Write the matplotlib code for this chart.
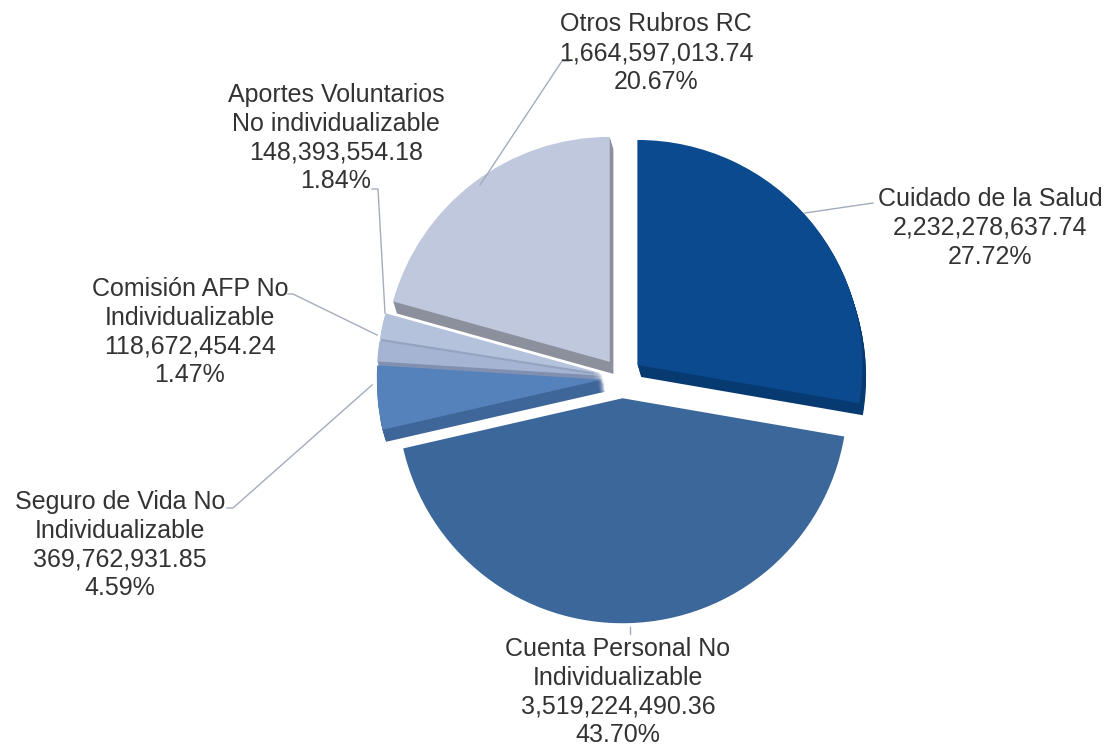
import numpy as np
import matplotlib.pyplot as plt

plt.rcParams['font.family'] = ['Liberation Sans', 'DejaVu Sans']

# data
categorias = ['Cuidado de la Salud',
              'Cuenta Personal No\nIndividualizable',
              'Seguro de Vida No\nIndividualizable',
              'Comisión AFP No\nIndividualizable',
              'Aportes Voluntarios\nNo individualizable',
              'Otros Rubros RC']
montos = [2232278637.74, 3519224490.36, 369762931.85,
          118672454.24, 148393554.18, 1664597013.74]

# estilo
colores = ['#0b4a8e', '#3b679a', '#5582bb', '#a4b4d2', '#b4c2dc', '#c0c8de']
lados = ['#083a72', 'none', '#3f6699', '#8190b0', '#94a3c0', '#8c909c']

W, H = 1112, 751
cx, cy, R = 622, H - 378, 225
explode = [0.09 * R] * 6   # pie() usa desplazamiento absoluto

fig = plt.figure(figsize=(W / 100, H / 100), dpi=100)
ax = fig.add_axes([0, 0, 1, 1])

# extrusion (capas desplazadas hacia abajo)
capas = 12
for k in range(capas, 0, -1):
    ax.pie(montos, colors=lados, explode=explode, radius=R,
           center=(cx + k * 0.3, cy - k * 1.0),
           startangle=90, counterclock=False,
           wedgeprops=dict(linewidth=0))
ax.pie(montos, colors=colores, explode=explode, radius=R,
       center=(cx, cy), startangle=90, counterclock=False,
       wedgeprops=dict(linewidth=0))

total = sum(montos)
textos = [f'{c}\n{m:,.2f}\n{m / total * 100:.2f}%' for c, m in zip(categorias, montos)]

# posiciones de etiquetas (px desde arriba)
pos_txt = [(990, 228), (618, 692), (120, 545), (190, 332), (336, 138), (656, 53)]
guias = [
    [(805, 213), (873, 203)],
    [(630, 627), (630, 634)],
    [(372, 385), (233, 508), (227, 508)],
    [(377, 335), (293, 294), (288, 294)],
    [(385, 313), (378, 189), (372, 189)],
    [(480, 185), (562, 61), (569, 61)],
]

for t, (x, y), g in zip(textos, pos_txt, guias):
    ax.text(x, H - y, t, ha='center', va='center', fontsize=18,
            color='#333333', linespacing=1.26)
    xs = [p[0] for p in g]
    ys = [H - p[1] for p in g]
    ax.plot(xs, ys, color='#a3acbb', lw=1)

ax.set_xlim(0, W)
ax.set_ylim(0, H)
ax.set_aspect('auto')
ax.axis('off')

fig.savefig('out.png', dpi=100, facecolor='white')
